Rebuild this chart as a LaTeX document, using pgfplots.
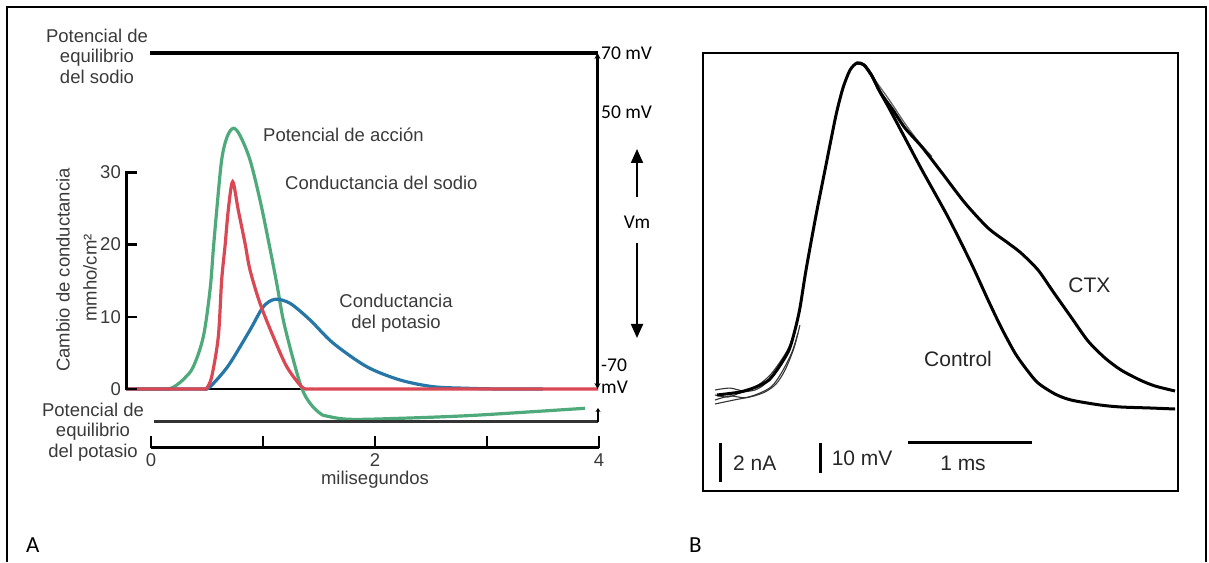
\documentclass[border=0pt]{standalone}
\usepackage{fontspec}
\setmainfont{Liberation Sans}
\newfontfamily\calib{Carlito}
\usepackage{pgfplots}
\pgfplotsset{compat=1.18}
\usetikzlibrary{arrows.meta}

\definecolor{apgreen}{RGB}{78,170,122}
\definecolor{nared}{RGB}{218,72,84}
\definecolor{kblue}{RGB}{38,118,168}
\definecolor{txt}{RGB}{58,58,58}

\tikzset{
  lblA/.style={font=\fontsize{18.5}{20.5}\selectfont, text=txt, inner sep=0pt},
  lblmv/.style={font=\calib\fontsize{19.5}{21}\selectfont, inner sep=0pt},
  lblB/.style={font=\fontsize{21}{23}\selectfont, text=black!85, inner sep=0pt},
}

\begin{document}
\begin{tikzpicture}
\path[use as bounding box] (0pt,0pt) rectangle (1209pt,562pt);

% ---------- panel A: conductances (mmho/cm^2) vs time (ms)
\begin{axis}[at={(0pt,0pt)}, anchor=south west, scale only axis,
  width=690pt, height=562pt,
  xmin=-1.34821, xmax=4.8125, ymin=-23.961, ymax=53.878,
  axis lines=none, clip=false, enlargelimits=false]
\draw[black, line width=1.3pt] (axis cs:-0.223,0) -- (axis cs:3.99,0);
% action potential
\addplot[apgreen, line width=3.2pt, smooth, tension=0.55] coordinates {
  (-0.223,0)(0.10,0)(0.17,0.05)(0.229,0.55)(0.30,1.5)(0.378,3.09)(0.467,7.24)(0.527,13.71)
  (0.556,19.25)(0.587,24.79)(0.631,31.72)(0.679,34.9)(0.735,36.11)(0.795,35.1)
  (0.884,31.72)(0.973,26.18)(1.047,20.64)(1.122,14.68)(1.181,9.56)(1.271,4.02)
  (1.346,0.1)(1.42,-1.98)(1.509,-3.37)(1.569,-3.75)(1.777,-4.2)(2.223,-4.06)
  (2.819,-3.7)(3.411,-3.14)(3.875,-2.67)
};
% potassium conductance
\addplot[kblue, line width=3.2pt, smooth, tension=0.5] coordinates {
  (-0.223,0)(0.40,0)(0.48,0)(0.512,0.1)(0.60,1.5)(0.705,3.56)(0.884,8.17)(1.003,11.4)(1.107,12.42)
  (1.241,11.87)(1.42,9.56)(1.625,6.37)(1.926,3.09)(2.223,1.25)(2.518,0.32)
  (2.819,0.1)(3.116,0)(3.5,0)
};
% sodium conductance
\addplot[nared, line width=3.2pt, smooth, tension=0.5] coordinates {
  (-0.223,0)(0.40,0)(0.47,0)(0.497,0.1)(0.542,1.7)(0.601,7.24)(0.631,15.1)(0.661,19.8)
  (0.69,24.79)(0.729,28.71)(0.779,24.79)(0.839,20.22)(0.884,16.48)(0.973,11.87)
  (1.092,7.24)(1.212,3.09)(1.346,0.3)(1.42,0)(1.6,0)(2.5,0)(3.991,0)
};
\end{axis}

% ---------- panel B: membrane potential traces (mV vs ms)
\begin{axis}[at={(703pt,71pt)}, anchor=south west, scale only axis,
  width=475pt, height=438pt,
  xmin=-0.09677, xmax=3.7339, ymin=-32, ymax=114,
  xtick=\empty, ytick=\empty, axis line style={line width=1.8pt},
  clip=false, enlargelimits=false]
% thin foot traces
\addplot[black!80, line width=1.1pt, smooth] coordinates {
  (0,1.67)(0.121,2.3)(0.242,1.33)(0.347,3.3)(0.444,6.6)(0.524,11)(0.597,15.67)};
\addplot[black!80, line width=1.1pt, smooth] coordinates {
  (0,0)(0.105,-0.67)(0.218,0.9)(0.323,1.67)(0.403,3.67)(0.484,7.67)(0.565,13.33)(0.621,18.33)};
\addplot[black!80, line width=1.1pt, smooth] coordinates {
  (0,-1.67)(0.121,-0.33)(0.242,-0.9)(0.363,0.67)(0.46,3)(0.54,7.67)(0.621,14.33)(0.669,20.67)};
\addplot[black!80, line width=1.1pt, smooth] coordinates {
  (0,-3)(0.161,-1.6)(0.298,-0.5)(0.403,1.0)(0.492,3.67)(0.565,8.33)(0.637,15.67)(0.685,23.33)};
% intermediate trace
\addplot[black!60, line width=1.3pt, smooth] coordinates {
  (1.266,106.33)(1.403,98.5)(1.532,90.5)(1.65,84)(1.75,79.5)};
% control
\addplot[black, line width=3pt, smooth, tension=0.45] coordinates {
  (0.016,0)(0.202,1.0)(0.331,2.67)(0.435,5.0)(0.516,9.33)(0.597,15.0)(0.645,21.67)
  (0.685,29.0)(0.734,41.67)(0.815,60.0)(0.895,76.67)(0.976,93.33)(1.032,102.33)
  (1.089,108.33)(1.145,110.67)(1.202,110.0)(1.266,106.33)(1.331,101.0)
  (1.403,95.67)(1.532,85.67)(1.669,75.0)(1.879,59.33)(2.065,44.0)(2.202,31.67)
  (2.306,22.67)(2.419,14.0)(2.516,8.33)(2.605,4.0)(2.742,0.33)(2.871,-1.67)
  (3.105,-3.33)(3.274,-4.0)(3.508,-4.33)(3.71,-4.67)
};
% CTX
\addplot[black, line width=3pt, smooth, tension=0.45] coordinates {
  (1.145,110.67)(1.202,110.0)(1.266,106.33)(1.331,101.0)(1.435,95.0)(1.532,89.0)
  (1.669,82.67)(1.831,74.0)(2.016,64.0)(2.202,55.67)(2.363,50.67)(2.468,47.33)
  (2.605,41.67)(2.734,34.0)(2.871,26.0)(3.008,18.0)(3.145,12.33)(3.274,8.33)
  (3.427,5.0)(3.548,3.0)(3.71,1.33)
};
\node[lblB] at (axis cs:3.02,36.67) {CTX};
\node[lblB] at (axis cs:1.96,12) {Control};
\draw[line width=3pt] (axis cs:0.048,-16) -- (axis cs:0.048,-29);
\node[lblB, anchor=west] at (axis cs:0.145,-22.67) {2 nA};
\draw[line width=3pt] (axis cs:0.85,-16) -- (axis cs:0.85,-26);
\node[lblB, anchor=west] at (axis cs:0.94,-21) {10 mV};
\draw[line width=2.5pt] (axis cs:1.556,-15.9) -- (axis cs:2.556,-15.9);
\node[lblB] at (axis cs:2.0,-22.67) {1 ms};
\end{axis}

% ---------- frame, scales and labels (1 unit = 1 px)
\begin{scope}[x=1pt, y=1pt]
\draw[line width=2pt] (7,0) -- (7,555) -- (1206,555) -- (1206,0);
% sodium equilibrium
\draw[line width=3.5pt] (150,509) -- (598,509);
\node[lblA, align=center] at (97,506) {Potencial de\\equilibrio\\del sodio};
% Vm scale line
\draw[line width=2.5pt, {Stealth[length=6pt,width=6pt]}-{Stealth[length=6pt,width=6pt]}] (597.5,509) -- (597.5,173);
\node[lblmv, anchor=west] at (601,509) {70 mV};
\node[lblmv, anchor=west] at (601,450) {50 mV};
\draw[line width=2pt, -{Triangle[length=14pt,width=12pt]}] (637,365) -- (637,413);
\node[lblmv] at (637,340) {Vm};
\draw[line width=2pt, -{Triangle[length=14pt,width=12pt]}] (637,319) -- (637,224);
\node[lblmv, anchor=west] at (601,197) {-70};
\node[lblmv, anchor=west] at (601,175) {mV};
% conductance axis
\draw[line width=3pt] (126.5,171.5) -- (126.5,391);
\foreach \yy/\lab in {173/0, 245.2/10, 317.4/20, 389.6/30} {
  \draw[line width=2.5pt] (126.5,\yy) -- (137,\yy);
  \node[lblA, anchor=east] at (121,\yy) {\lab};
}
\node[lblA, rotate=90] at (63,292) {Cambio de conductancia};
\node[lblA, rotate=90] at (90,284) {mmho/cm²};
% curve labels
\node[lblA, anchor=west] at (263,427) {Potencial de acción};
\node[lblA, anchor=west] at (285,379) {Conductancia del sodio};
\node[lblA, align=center] at (396,249) {Conductancia\\del potasio};
% potassium equilibrium
\draw[line width=3pt, black!80] (154,140) -- (598,140);
\draw[line width=1.8pt, -{Stealth[length=4pt,width=5pt]}] (598,140) -- (598,154);
\node[lblA, align=center] at (93,130) {Potencial de\\equilibrio\\del potasio};
% time axis
\draw[line width=3pt] (151,114) -- (599,114);
\foreach \xx in {151,263,375,487,599} \draw[line width=2.2pt] (\xx,114) -- (\xx,126);
\node[lblA] at (151,102) {0};
\node[lblA] at (375,102) {2};
\node[lblA] at (599,102) {4};
\node[lblA] at (375,82) {milisegundos};
% panel letters
\node[font=\calib\fontsize{23}{25}\selectfont, anchor=west, inner sep=0pt] at (26,17) {A};
\node[font=\calib\fontsize{23}{25}\selectfont, anchor=west, inner sep=0pt] at (689,17) {B};
\end{scope}
\end{tikzpicture}
\end{document}
